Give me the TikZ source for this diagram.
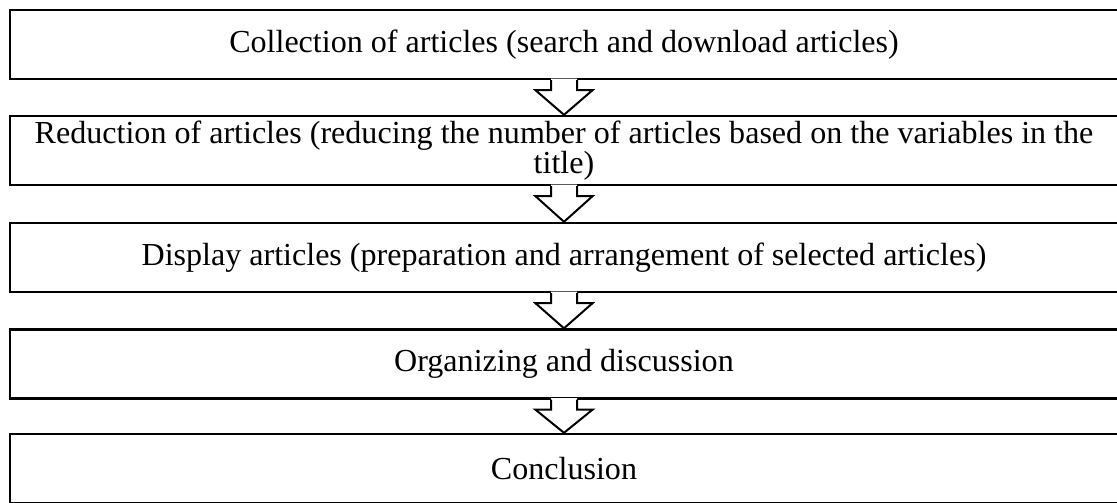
\documentclass[tikz,border=0pt]{standalone}
\usepackage{fontspec}
\setmainfont{Liberation Serif}
\usetikzlibrary{calc}

% hollow block arrow from one step to the next
\newcommand{\flowarrow}[2]{%
  \fill[white] ($(#1.south)+(-13,-1.5)$) -- ($(#1.south)+(-13,10)$) -- ($(#1.south)+(-28.5,10)$) -- (#2.north)
    -- ($(#1.south)+(28.5,10)$) -- ($(#1.south)+(13,10)$) -- ($(#1.south)+(13,-1.5)$) -- cycle;
  \draw[hollow] ($(#1.south)+(-13,0)$) -- ($(#1.south)+(-13,10)$) -- ($(#1.south)+(-28.5,10)$) -- (#2.north)
    -- ($(#1.south)+(28.5,10)$) -- ($(#1.south)+(13,10)$) -- ($(#1.south)+(13,0)$);
}

\begin{document}
\begin{tikzpicture}[
  x=0.025cm, y=-0.025cm,
  stage/.style={rectangle, draw, line width=2.4pt*0.711, minimum width=27.7cm, minimum height=1.725cm,
    inner sep=0pt, align=center, font=\fontsize{22.8}{21.3}\selectfont},
  hollow/.style={draw, line width=2pt*0.711, line join=miter}
]
\useasboundingbox (0,0) rectangle (1117,502);

% Steps
\node[stage] (collect) at (564,44.5) {Collection of articles (search and download articles)};
\node[stage] (reduce) at (564,150.5) {Reduction of articles (reducing the number of articles based on the variables in the\\title)};
\node[stage] (display) at (564,257.5) {Display articles (preparation and arrangement of selected articles)};
\node[stage] (organize) at (564,364) {Organizing and discussion};
\node[stage] (conclude) at (564,468.5) {Conclusion};

% Arrows
\flowarrow{collect}{reduce}
\flowarrow{reduce}{display}
\flowarrow{display}{organize}
\flowarrow{organize}{conclude}

\end{tikzpicture}
\end{document}
